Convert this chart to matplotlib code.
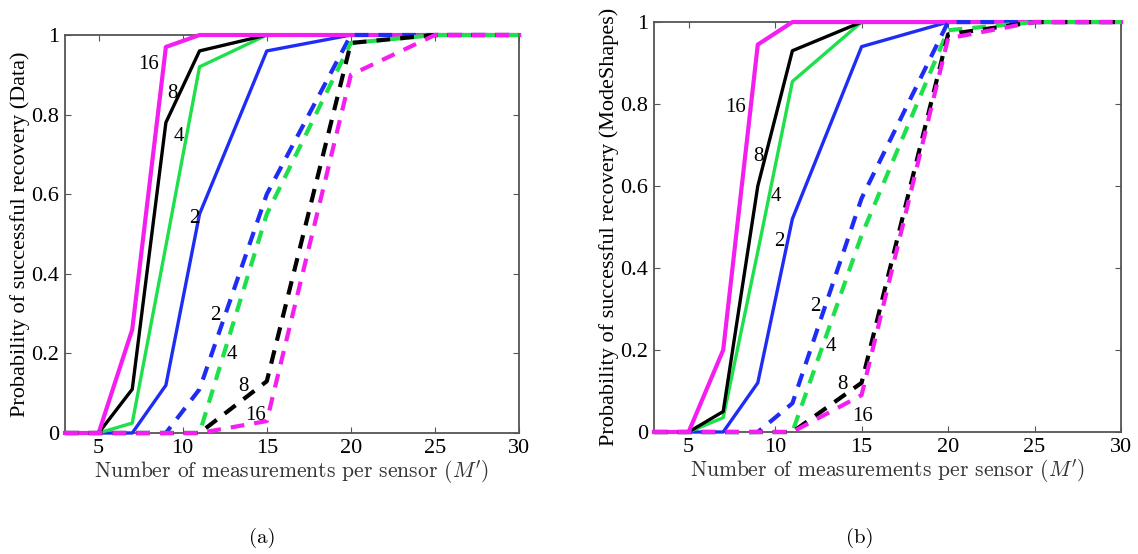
import numpy as np
import matplotlib.pyplot as plt

plt.rcParams['mathtext.fontset'] = 'cm'

# number of measurements per sensor
M = [3, 5, 7, 9, 11, 15, 20, 25, 30]
sensors = [2, 4, 8, 16]
colors = ['#1f2cf5', '#1ee04a', '#000000', '#f51ef0']

# (a) recovery of the data
data_solid = {
    2: [0, 0, 0, 0.12, 0.55, 0.96, 1, 1, 1],
    4: [0, 0, 0.025, 0.47, 0.92, 1, 1, 1, 1],
    8: [0, 0, 0.11, 0.78, 0.96, 1, 1, 1, 1],
    16: [0, 0, 0.26, 0.97, 1, 1, 1, 1, 1],
}
data_dashed = {
    2: [0, 0, 0, 0, 0.11, 0.60, 1, 1, 1],
    4: [0, 0, 0, 0, 0, 0.55, 0.98, 1, 1],
    8: [0, 0, 0, 0, 0, 0.13, 0.98, 1, 1],
    16: [0, 0, 0, 0, 0, 0.03, 0.90, 1, 1],
}

# (b) recovery of the mode shapes
modes_solid = {
    2: [0, 0, 0, 0.12, 0.52, 0.94, 1, 1, 1],
    4: [0, 0, 0.035, 0.44, 0.855, 1, 1, 1, 1],
    8: [0, 0, 0.05, 0.60, 0.93, 1, 1, 1, 1],
    16: [0, 0, 0.20, 0.945, 1, 1, 1, 1, 1],
}
modes_dashed = {
    2: [0, 0, 0, 0, 0.07, 0.57, 1, 1, 1],
    4: [0, 0, 0, 0, 0, 0.48, 0.98, 1, 1],
    8: [0, 0, 0, 0, 0, 0.12, 0.97, 1, 1],
    16: [0, 0, 0, 0, 0, 0.09, 0.96, 1, 1],
}

# curve labels: (text, x, y)
data_labels = [('16', 7.99, 0.925), ('8', 9.38, 0.853), ('4', 9.77, 0.745), ('2', 10.72, 0.54),
               ('2', 11.95, 0.296), ('4', 12.94, 0.196), ('8', 13.63, 0.116), ('16', 14.32, 0.045)]
modes_labels = [('16', 7.71, 0.792), ('8', 9.06, 0.671), ('4', 10.02, 0.574), ('2', 10.23, 0.465),
                ('2', 12.33, 0.306), ('4', 13.2, 0.208), ('8', 13.87, 0.115), ('16', 15.03, 0.037)]

serif = 'Liberation Serif'


def draw_panel(ax, solid, dashed, labels, ylabel):
    for s, c in zip(sensors, colors):
        lw = 3.0 if s == 16 else 2.4
        ax.plot(M, solid[s], color=c, linewidth=lw, clip_on=False, zorder=3)
    for s, c in zip(sensors, colors):
        ax.plot(M, dashed[s], color=c, linewidth=3.0, linestyle=(0, (3.3, 2.4)),
                clip_on=False, zorder=3)
    for txt, x, y in labels:
        ax.text(x, y, txt, fontsize=15, family=serif, ha='center', va='center', zorder=4)

    ax.set_xlim(3, 30)
    ax.set_ylim(0, 1)
    ax.set_xticks([5, 10, 15, 20, 25, 30])
    ax.set_yticks([0, 0.2, 0.4, 0.6, 0.8, 1])
    ax.set_yticklabels(['0', '0.2', '0.4', '0.6', '0.8', '1'])
    ax.tick_params(direction='in', top=True, right=True, length=4, width=0.8,
                   color='#555555', labelsize=16, pad=4)
    for lab in ax.get_xticklabels() + ax.get_yticklabels():
        lab.set_family(serif)
    for sp in ax.spines.values():
        sp.set_color('#555555')
        sp.set_linewidth(1.3)
    ax.set_xlabel("Number of measurements per sensor ($M'$)", family='cmr10',
                  fontsize=15.5, color='#333333', labelpad=1)
    ax.set_ylabel(ylabel, family=serif, fontsize=16, labelpad=1)


fig = plt.figure(figsize=(11.38, 5.54), dpi=100)
ax1 = fig.add_axes([0.0571, 0.2184, 0.399, 0.7184])
ax2 = fig.add_axes([0.5747, 0.2202, 0.4104, 0.740])

draw_panel(ax1, data_solid, data_dashed, data_labels, 'Probability of successful recovery (Data)')
draw_panel(ax2, modes_solid, modes_dashed, modes_labels, 'Probability of successful recovery (ModeShapes)')

fig.text(262 / 1138, 1 - 538 / 554, '(a)', family='cmr10', fontsize=15, ha='center', va='center')
fig.text(860 / 1138, 1 - 538 / 554, '(b)', family='cmr10', fontsize=15, ha='center', va='center')

fig.savefig('out.png', dpi=100)
